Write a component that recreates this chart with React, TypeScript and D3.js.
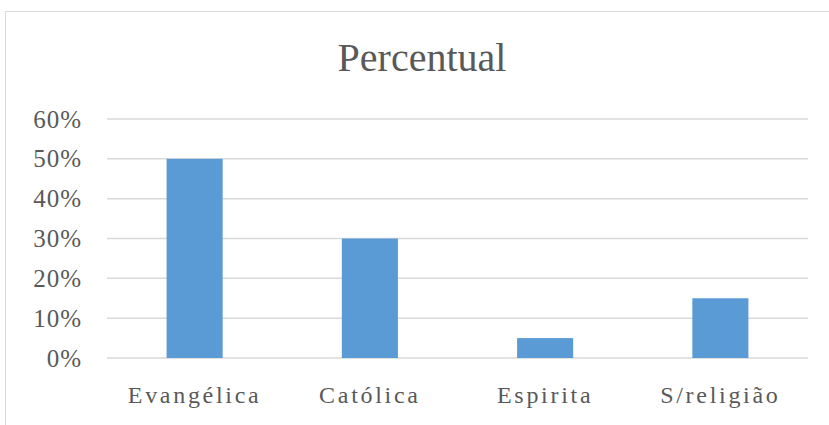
import React from 'react'
import { scaleBand, scaleLinear } from 'd3'

const categories = ['Evangélica', 'Católica', 'Espirita', 'S/religião']
const values = [0.5, 0.3, 0.05, 0.15]
const ticks = [0, 0.1, 0.2, 0.3, 0.4, 0.5, 0.6]
const title = 'Percentual'

const width = 829
const height = 425
const left = 107
const right = 808
const top = 119
const bottom = 358

const textColor = '#595959'
const gridColor = '#d9d9d9'
const barColor = '#5b9bd5'
const font = '"Liberation Serif", "Times New Roman", serif'

function App() {
    const x = scaleBand().domain(categories).range([left, right]).paddingInner(0.68).paddingOuter(0.34)
    const y = scaleLinear().domain([0, 0.6]).range([bottom, top])

    return (
        <svg
            width={width}
            height={height}
            style={{ position: 'absolute', left: 0, top: 0, background: '#fff' }}
            fontFamily={font}
        >
            <rect x={5.5} y={11.5} width={900} height={600} fill="#fff" stroke={gridColor} />
            <text x={422} y={71} textAnchor="middle" fontSize={40} fill={textColor}>
                {title}
            </text>
            {ticks.map(t => (
                <g key={t}>
                    <line x1={left} x2={right} y1={y(t)} y2={y(t)} stroke={gridColor} strokeWidth={1.5} />
                    <text
                        x={82}
                        y={y(t) + 8.5}
                        textAnchor="end"
                        fontSize={25}
                        letterSpacing={1}
                        fill={textColor}
                    >
                        {Math.round(t * 100) + '%'}
                    </text>
                </g>
            ))}
            {categories.map((c, i) => (
                <g key={c}>
                    <rect
                        x={x(c)}
                        y={y(values[i])}
                        width={x.bandwidth()}
                        height={bottom - y(values[i])}
                        fill={barColor}
                    />
                    <text
                        x={(x(c) ?? 0) + x.bandwidth() / 2}
                        y={403}
                        textAnchor="middle"
                        fontSize={24}
                        letterSpacing={2.7}
                        fill={textColor}
                    >
                        {c}
                    </text>
                </g>
            ))}
        </svg>
    )
}

export default App
